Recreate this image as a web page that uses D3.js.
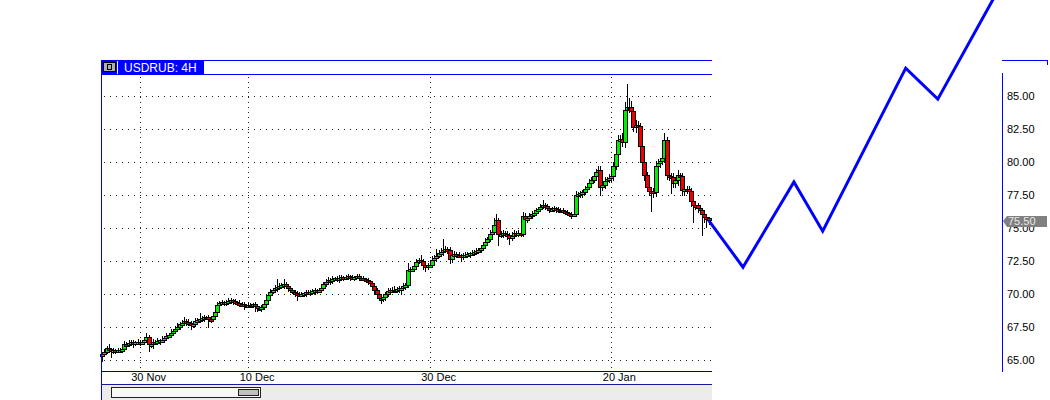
<!DOCTYPE html>
<html>
<head>
<meta charset="utf-8">
<script src="https://cdn.jsdelivr.net/npm/d3@7"></script>
<style>
  html, body { margin: 0; padding: 0; background: #ffffff; }
  svg { display: block; }
  text { font-family: "Liberation Sans", Arial, sans-serif; }
</style>
</head>
<body>
<svg id="chart" width="1050" height="400"></svg>
<script>
// ---------------- DATA ----------------
const symbolTitle = "USDRUB: 4H";
const firstOpen = 65.30;
const closes = [
  65.45,65.60,65.90,65.80,65.65,65.70,65.68,65.72,65.75,65.80,
  66.20,66.15,66.25,66.35,66.20,66.30,66.35,66.30,66.35,66.45,
  66.75,66.15,66.20,66.35,66.30,66.40,66.45,66.50,66.60,66.80,
  66.85,67.05,67.20,67.35,67.50,67.70,67.80,67.90,67.85,67.80,
  67.60,67.70,67.95,68.00,68.10,68.15,68.20,68.20,68.10,68.05,
  68.30,68.60,69.10,69.30,69.35,69.30,69.40,69.45,69.50,69.45,
  69.35,69.30,69.25,69.20,69.10,69.10,69.15,69.15,69.20,69.05,
  68.90,68.90,68.95,69.20,69.55,69.90,70.15,70.30,70.40,70.50,
  70.60,70.65,70.70,70.55,70.40,70.25,70.15,70.05,70.00,69.95,
  70.00,70.05,70.10,70.05,70.15,70.20,70.25,70.20,70.30,70.45,
  70.70,70.90,71.00,70.95,71.10,71.15,71.10,71.20,71.25,71.20,
  71.25,71.30,71.25,71.20,71.25,71.30,71.20,71.15,71.10,71.05,
  70.95,70.80,70.60,70.30,70.00,69.70,69.60,69.75,69.95,70.20,
  70.25,70.30,70.30,70.35,70.40,70.45,70.55,70.65,71.80,71.85,
  71.90,72.10,72.40,72.55,72.50,72.15,72.10,72.15,72.20,72.55,
  72.70,72.85,73.05,73.15,73.30,73.35,73.30,72.60,72.95,73.00,
  72.95,72.90,72.80,72.90,72.95,73.00,73.05,73.10,73.15,73.25,
  73.30,73.45,73.65,73.90,74.10,74.50,74.70,75.20,75.55,74.50,
  74.55,74.60,74.55,74.45,74.25,74.40,74.60,74.55,74.60,74.55,
  75.90,75.65,75.70,75.90,76.00,76.10,76.30,76.40,76.55,76.70,
  76.60,76.50,76.35,76.40,76.45,76.40,76.35,76.35,76.25,76.20,
  76.10,76.05,76.00,76.05,77.50,77.55,77.60,77.70,77.90,78.10,
  78.40,78.60,78.90,79.20,79.35,78.10,78.20,78.55,78.65,78.75,
  78.90,79.70,80.60,81.60,81.70,81.50,83.90,84.10,84.10,83.80,
  82.60,82.75,82.70,81.20,80.00,79.00,78.10,77.80,77.75,77.70,
  79.70,79.90,80.05,80.25,81.60,79.00,78.90,78.85,78.40,78.60,
  78.95,78.90,77.85,77.95,77.90,77.80,77.00,76.75,76.70,76.50,
  76.30,76.00,75.80,75.70,75.55
];
const wickUp = [
  0.10,0.20,0.15,0.25,0.10,0.15,0.10,0.15,0.10,0.15,
  0.20,0.15,0.25,0.10,0.15,0.10,0.20,0.10,0.15,0.20,
  0.30,0.15,0.10,0.20,0.15,0.25,0.10,0.30,0.15,0.25,
  0.20,0.30,0.15,0.20,0.25,0.15,0.20,0.35,0.15,0.20,
  0.10,0.25,0.20,0.15,0.45,0.15,0.20,0.10,0.15,0.10,
  0.15,0.20,0.25,0.15,0.20,0.10,0.15,0.25,0.15,0.10,
  0.15,0.10,0.20,0.10,0.15,0.10,0.20,0.15,0.10,0.15,
  0.10,0.15,0.20,0.15,0.25,0.15,0.20,0.15,0.25,0.60,
  0.20,0.15,0.40,0.15,0.20,0.10,0.15,0.10,0.15,0.10,
  0.15,0.10,0.20,0.15,0.10,0.15,0.20,0.10,0.15,0.20,
  0.15,0.20,0.25,0.15,0.20,0.10,0.15,0.20,0.15,0.10,
  0.15,0.20,0.10,0.15,0.10,0.20,0.15,0.10,0.15,0.10,
  0.15,0.10,0.15,0.10,0.15,0.10,0.15,0.20,0.15,0.25,
  0.15,0.20,0.30,0.15,0.20,0.15,0.25,0.15,0.50,0.20,
  0.15,0.25,0.20,0.15,0.40,0.15,0.20,0.15,0.20,0.30,
  0.20,0.50,0.25,0.30,0.80,0.25,0.15,0.20,0.30,0.20,
  0.15,0.20,0.10,0.15,0.20,0.15,0.10,0.20,0.15,0.20,
  0.15,0.25,0.20,0.30,0.20,0.35,0.25,0.50,0.50,0.20,
  0.20,0.25,0.15,0.20,0.15,0.25,0.20,0.15,0.20,0.15,
  0.25,0.20,0.15,0.20,0.25,0.15,0.20,0.15,0.25,0.40,
  0.15,0.20,0.10,0.15,0.20,0.10,0.15,0.10,0.15,0.10,
  0.15,0.10,0.15,0.10,0.30,0.15,0.20,0.15,0.25,0.20,
  0.25,0.20,0.30,0.25,0.35,0.30,0.20,0.25,0.20,0.30,
  0.25,0.30,0.35,0.40,0.30,0.45,0.60,1.80,0.70,0.50,
  0.35,0.40,0.30,0.25,0.20,0.30,0.25,0.20,0.30,0.25,
  0.35,0.30,0.25,0.30,0.60,0.30,0.20,0.25,0.30,0.25,
  0.40,0.20,0.25,0.30,0.20,0.25,0.20,0.15,0.25,0.20,
  0.15,0.20,0.15,0.20,0.10
];
const wickDown = [
  0.40,0.15,0.10,0.20,0.45,0.15,0.20,0.10,0.15,0.20,
  0.15,0.20,0.10,0.15,0.25,0.10,0.15,0.20,0.10,0.15,
  0.10,0.50,0.20,0.30,0.15,0.10,0.20,0.15,0.10,0.15,
  0.10,0.15,0.20,0.10,0.15,0.20,0.10,0.15,0.25,0.15,
  0.30,0.15,0.10,0.20,0.15,0.10,0.20,0.15,0.60,0.20,
  0.15,0.10,0.20,0.15,0.10,0.20,0.15,0.10,0.15,0.20,
  0.10,0.15,0.20,0.15,0.25,0.15,0.10,0.20,0.15,0.35,
  0.25,0.15,0.20,0.15,0.10,0.20,0.15,0.10,0.15,0.20,
  0.15,0.10,0.20,0.15,0.20,0.15,0.10,0.25,0.50,0.15,
  0.10,0.15,0.20,0.10,0.15,0.10,0.20,0.15,0.10,0.15,
  0.20,0.15,0.10,0.20,0.15,0.10,0.15,0.20,0.10,0.15,
  0.10,0.15,0.20,0.10,0.15,0.10,0.20,0.15,0.10,0.15,
  0.20,0.15,0.20,0.30,0.25,0.20,0.30,0.15,0.20,0.15,
  0.25,0.15,0.20,0.15,0.20,0.45,0.15,0.20,0.15,0.20,
  0.15,0.20,0.15,0.10,0.20,0.30,0.40,0.20,0.15,0.20,
  0.15,0.20,0.10,0.15,0.20,0.15,0.20,0.30,0.20,0.15,
  0.20,0.15,0.35,0.20,0.15,0.10,0.20,0.15,0.10,0.15,
  0.20,0.15,0.10,0.15,0.20,0.15,0.20,0.15,0.25,0.80,
  0.20,0.25,0.15,0.30,0.50,0.20,0.15,0.20,0.15,0.20,
  0.20,0.60,0.20,0.15,0.20,0.15,0.10,0.20,0.15,0.10,
  0.20,0.15,0.20,0.10,0.15,0.20,0.15,0.20,0.15,0.20,
  0.15,0.20,0.25,0.15,0.20,0.15,0.20,0.25,0.15,0.20,
  0.15,0.20,0.15,0.20,0.15,0.60,0.25,0.20,0.25,0.20,
  0.25,0.30,0.25,0.30,0.35,0.30,0.40,0.30,0.35,0.40,
  0.30,0.35,0.40,0.30,0.50,0.40,0.35,0.30,1.50,0.40,
  0.30,0.25,0.30,0.25,0.30,0.35,0.30,1.25,0.35,0.30,
  0.35,0.30,0.40,0.35,0.30,0.35,0.40,1.35,0.30,0.35,
  0.30,1.55,0.35,0.65,0.30
];
const yTicks = [65, 67.5, 70, 72.5, 75, 77.5, 80, 82.5, 85];
const dateLabels = ["30 Nov", "10 Dec", "30 Dec", "20 Jan"];
const dateIdx = [17, 66, 148, 230];
const forecastIdx = [274, 289.5, 312.5, 325.5, 363, 377.5, 402.5];
const forecastPrice = [75.55, 72.00, 78.45, 74.73, 87.08, 84.73, 92.30];
const lastPrice = 75.50;

// ---------------- BUILD ----------------
const candles = closes.map((c, i) => {
  const o = i === 0 ? firstOpen : closes[i - 1];
  return { i, o, c, h: Math.max(o, c) + wickUp[i], l: Math.min(o, c) - wickDown[i] };
});

const svg = d3.select("#chart");
const plotL = 101, plotR = 712, plotT = 75, plotB = 371;
const BLUE = "#0000ff";

const x = d3.scaleLinear().domain([-0.5, 275.5]).range([plotL, plotR]);
const y = d3.scaleLinear().domain([65, 85]).range([359.6, 95.6]);

// grey scroll area
svg.append("rect").attr("x", plotL).attr("y", 385).attr("width", plotR - plotL).attr("height", 15).attr("fill", "#ececec");

// grid
const grid = svg.append("g").attr("shape-rendering", "crispEdges");
grid.selectAll("line.h").data(yTicks).join("line")
  .attr("x1", plotL + 3).attr("x2", plotR)
  .attr("y1", d => Math.round(y(d)) + 0.5).attr("y2", d => Math.round(y(d)) + 0.5)
  .attr("stroke", "#222").attr("stroke-width", 1).attr("stroke-dasharray", "1,5");
grid.selectAll("line.v").data(dateIdx).join("line")
  .attr("x1", d => Math.round(x(d)) + 0.5).attr("x2", d => Math.round(x(d)) + 0.5)
  .attr("y1", plotT + 2).attr("y2", plotB)
  .attr("stroke", "#222").attr("stroke-width", 1).attr("stroke-dasharray", "1,4");

// candles
const cg = svg.append("g").attr("shape-rendering", "crispEdges");
candles.forEach(d => {
  const cx = Math.round(x(d.i));
  cg.append("line")
    .attr("x1", cx + 0.5).attr("x2", cx + 0.5)
    .attr("y1", Math.round(y(d.h))).attr("y2", Math.round(y(d.l)) + 1)
    .attr("stroke", "#000").attr("stroke-width", 1);
  const top = Math.round(y(Math.max(d.o, d.c)));
  const bot = Math.round(y(Math.min(d.o, d.c)));
  const hgt = Math.max(2, bot - top);
  cg.append("rect")
    .attr("x", cx - 1.5).attr("y", top + 0.5)
    .attr("width", 4).attr("height", hgt)
    .attr("fill", d.c > d.o ? "#00ee00" : (d.c < d.o ? "#ee0000" : "#000"))
    .attr("stroke", "#000").attr("stroke-width", 1);
});

// frame lines
const fr = svg.append("g").attr("shape-rendering", "crispEdges");
fr.append("line").attr("x1", plotL).attr("x2", plotR).attr("y1", 60.5).attr("y2", 60.5).attr("stroke", BLUE);
fr.append("line").attr("x1", plotL).attr("x2", plotR).attr("y1", 74.5).attr("y2", 74.5).attr("stroke", BLUE);
fr.append("line").attr("x1", plotL + 0.5).attr("x2", plotL + 0.5).attr("y1", 60).attr("y2", 400).attr("stroke", BLUE);
fr.append("line").attr("x1", plotL).attr("x2", plotR).attr("y1", 371.5).attr("y2", 371.5).attr("stroke", "#000080");
fr.append("line").attr("x1", plotL).attr("x2", plotR).attr("y1", 384.5).attr("y2", 384.5).attr("stroke", "#1a1aa0");
// right axis panel
fr.append("line").attr("x1", 1002).attr("x2", 1048).attr("y1", 60.5).attr("y2", 60.5).attr("stroke", BLUE);
fr.append("line").attr("x1", 1047.5).attr("x2", 1047.5).attr("y1", 60).attr("y2", 65).attr("stroke", BLUE);
fr.append("line").attr("x1", 1002.5).attr("x2", 1002.5).attr("y1", 73).attr("y2", 372).attr("stroke", BLUE);

// header tab
const hd = svg.append("g").attr("shape-rendering", "crispEdges");
hd.append("rect").attr("x", 102).attr("y", 61).attr("width", 102).attr("height", 13).attr("fill", BLUE);
hd.append("rect").attr("x", 103.5).attr("y", 62.5).attr("width", 12).attr("height", 9).attr("fill", "#b0b0b0").attr("stroke", "#000");
hd.append("rect").attr("x", 107).attr("y", 64).attr("width", 5).attr("height", 6).attr("fill", "#000");
hd.append("rect").attr("x", 108).attr("y", 65).attr("width", 3).attr("height", 4).attr("fill", "#b0b0b0");
hd.append("line").attr("x1", 117.5).attr("x2", 117.5).attr("y1", 61).attr("y2", 74).attr("stroke", "#ffffff");
svg.append("text").attr("x", 124).attr("y", 72).attr("font-size", 12).attr("fill", "#ffffff").text(symbolTitle);

// scrollbar
const sb = svg.append("g").attr("shape-rendering", "crispEdges");
sb.append("rect").attr("x", 111.5).attr("y", 387.5).attr("width", 149).attr("height", 10).attr("fill", "#f8f8f8").attr("stroke", "#222");
sb.append("rect").attr("x", 238.5).attr("y", 389.5).attr("width", 20).attr("height", 6).attr("fill", "#c0c0c0").attr("stroke", "#222");

// x axis
const xAxis = d3.axisBottom(x).tickValues(dateIdx).tickFormat((d, k) => dateLabels[k]).tickSize(0).tickPadding(0);
const xg = svg.append("g").attr("transform", "translate(0,373)").call(xAxis);
xg.select(".domain").remove();
xg.selectAll("text").attr("font-family", "Liberation Sans, Arial, sans-serif").attr("font-size", 11)
  .attr("fill", "#000").attr("text-anchor", "start").attr("dx", -9).attr("dy", "0.71em");

// y axis
const yAxis = d3.axisRight(y).tickValues(yTicks).tickFormat(d3.format(".2f")).tickSize(0).tickPadding(5);
const yg = svg.append("g").attr("transform", "translate(1002,0)").call(yAxis);
yg.select(".domain").remove();
yg.selectAll("text").attr("font-family", "Liberation Sans, Arial, sans-serif").attr("font-size", 11).attr("fill", "#000");

// price tag
const py = y(lastPrice);
svg.append("path")
  .attr("d", `M1003,${py} L1007,${py - 5} L1047,${py - 5} L1047,${py + 6} L1007,${py + 6} Z`)
  .attr("fill", "#808080");
svg.append("text").attr("x", 1008).attr("y", py).attr("dy", "0.36em").attr("font-size", 11)
  .attr("fill", "#e8e8e8").text(d3.format(".2f")(lastPrice));

// forecast zig-zag
const line = d3.line().x(d => x(d[0])).y(d => y(d[1]));
svg.append("path")
  .datum(forecastIdx.map((d, k) => [d, forecastPrice[k]]))
  .attr("d", line).attr("fill", "none").attr("stroke", BLUE).attr("stroke-width", 3)
  .attr("stroke-linejoin", "miter");
</script>
</body>
</html>
